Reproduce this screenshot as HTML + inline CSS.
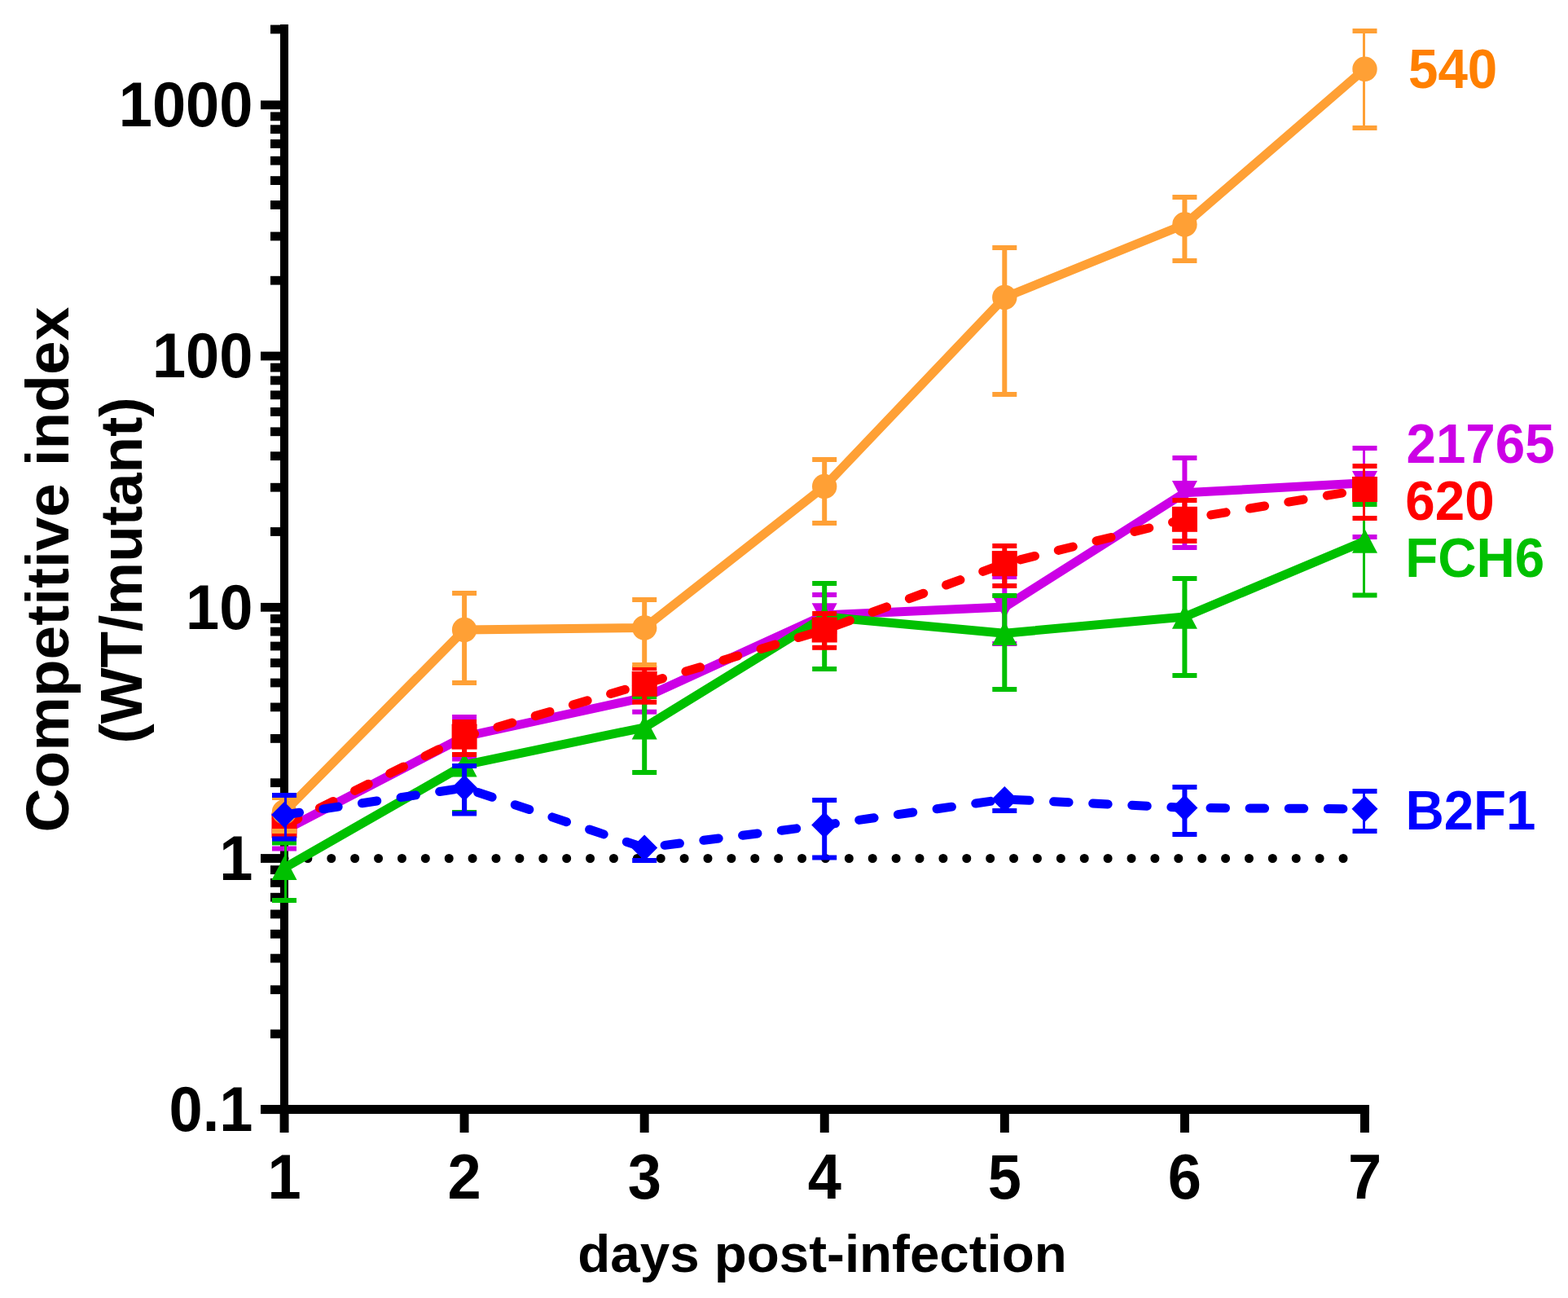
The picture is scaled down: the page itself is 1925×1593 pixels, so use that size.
<!DOCTYPE html>
<html><head><meta charset="utf-8"><title>Competitive index</title>
<style>html,body{margin:0;padding:0;background:#fff;width:1925px;height:1593px;overflow:hidden}</style>
</head><body>
<svg width="1925" height="1593" viewBox="0 0 1925 1593" style="display:block">
<rect width="1925" height="1593" fill="#fff"/>
<rect x="344" y="30" width="10" height="1337" fill="#000"/>
<rect x="320" y="1356" width="1361" height="11" fill="#000"/>
<rect x="320" y="1356.3" width="30" height="10.8" fill="#000"/>
<rect x="320" y="1048.1" width="30" height="10.8" fill="#000"/>
<rect x="320" y="739.9" width="30" height="10.8" fill="#000"/>
<rect x="320" y="431.6" width="30" height="10.8" fill="#000"/>
<rect x="320" y="123.4" width="30" height="10.8" fill="#000"/>
<rect x="332" y="1263.5" width="18" height="10.8" fill="#000"/>
<rect x="332" y="1209.3" width="18" height="10.8" fill="#000"/>
<rect x="332" y="1170.7" width="18" height="10.8" fill="#000"/>
<rect x="332" y="1140.9" width="18" height="10.8" fill="#000"/>
<rect x="332" y="1116.5" width="18" height="10.8" fill="#000"/>
<rect x="332" y="1095.8" width="18" height="10.8" fill="#000"/>
<rect x="332" y="1078.0" width="18" height="10.8" fill="#000"/>
<rect x="332" y="1062.2" width="18" height="10.8" fill="#000"/>
<rect x="332" y="955.3" width="18" height="10.8" fill="#000"/>
<rect x="332" y="901.0" width="18" height="10.8" fill="#000"/>
<rect x="332" y="862.5" width="18" height="10.8" fill="#000"/>
<rect x="332" y="832.6" width="18" height="10.8" fill="#000"/>
<rect x="332" y="808.2" width="18" height="10.8" fill="#000"/>
<rect x="332" y="787.6" width="18" height="10.8" fill="#000"/>
<rect x="332" y="769.7" width="18" height="10.8" fill="#000"/>
<rect x="332" y="754.0" width="18" height="10.8" fill="#000"/>
<rect x="332" y="647.1" width="18" height="10.8" fill="#000"/>
<rect x="332" y="592.8" width="18" height="10.8" fill="#000"/>
<rect x="332" y="554.3" width="18" height="10.8" fill="#000"/>
<rect x="332" y="524.4" width="18" height="10.8" fill="#000"/>
<rect x="332" y="500.0" width="18" height="10.8" fill="#000"/>
<rect x="332" y="479.4" width="18" height="10.8" fill="#000"/>
<rect x="332" y="461.5" width="18" height="10.8" fill="#000"/>
<rect x="332" y="445.7" width="18" height="10.8" fill="#000"/>
<rect x="332" y="338.8" width="18" height="10.8" fill="#000"/>
<rect x="332" y="284.6" width="18" height="10.8" fill="#000"/>
<rect x="332" y="246.1" width="18" height="10.8" fill="#000"/>
<rect x="332" y="216.2" width="18" height="10.8" fill="#000"/>
<rect x="332" y="191.8" width="18" height="10.8" fill="#000"/>
<rect x="332" y="171.1" width="18" height="10.8" fill="#000"/>
<rect x="332" y="153.3" width="18" height="10.8" fill="#000"/>
<rect x="332" y="137.5" width="18" height="10.8" fill="#000"/>
<rect x="332" y="30.6" width="18" height="10.8" fill="#000"/>
<rect x="343.6" y="1360" width="10.9" height="30" fill="#000"/>
<rect x="564.6" y="1360" width="10.9" height="30" fill="#000"/>
<rect x="785.7" y="1360" width="10.9" height="30" fill="#000"/>
<rect x="1006.8" y="1360" width="10.9" height="30" fill="#000"/>
<rect x="1227.9" y="1360" width="10.9" height="30" fill="#000"/>
<rect x="1449.0" y="1360" width="10.9" height="30" fill="#000"/>
<rect x="1670.0" y="1360" width="10.9" height="30" fill="#000"/>

<line x1="349" y1="1053.5" x2="1649.5" y2="1053.5" stroke="#000" stroke-width="11" stroke-linecap="round" stroke-dasharray="0 28.889"/>
<g>
<polyline points="349.0,1019.0 570.1,904.0 791.2,856.0 1012.2,755.0 1233.3,745.0 1454.4,604.8 1675.5,592.8" fill="none" stroke="#CC00E6" stroke-width="11" stroke-linejoin="round" stroke-linecap="round"/>
<rect x="349" y="1000.0" width="3" height="41.5" fill="#CC00E6"/>
<rect x="334.0" y="997.0" width="30" height="6" fill="#CC00E6"/>
<rect x="334.0" y="1038.5" width="30" height="6" fill="#CC00E6"/>
<rect x="567.1" y="880.0" width="6" height="51.5" fill="#CC00E6"/>
<rect x="555.1" y="877.0" width="30" height="6" fill="#CC00E6"/>
<rect x="555.1" y="928.5" width="30" height="6" fill="#CC00E6"/>
<rect x="788.2" y="838.0" width="6" height="35.7" fill="#CC00E6"/>
<rect x="776.2" y="835.0" width="30" height="6" fill="#CC00E6"/>
<rect x="776.2" y="870.7" width="30" height="6" fill="#CC00E6"/>
<rect x="1009.2" y="730.0" width="6" height="45.0" fill="#CC00E6"/>
<rect x="997.2" y="727.0" width="30" height="6" fill="#CC00E6"/>
<rect x="997.2" y="772.0" width="30" height="6" fill="#CC00E6"/>
<rect x="1230.3" y="708.0" width="6" height="82.0" fill="#CC00E6"/>
<rect x="1218.3" y="705.0" width="30" height="6" fill="#CC00E6"/>
<rect x="1218.3" y="787.0" width="30" height="6" fill="#CC00E6"/>
<rect x="1451.4" y="562.0" width="6" height="110.0" fill="#CC00E6"/>
<rect x="1439.4" y="559.0" width="30" height="6" fill="#CC00E6"/>
<rect x="1439.4" y="669.0" width="30" height="6" fill="#CC00E6"/>
<rect x="1673" y="550.0" width="3" height="109.0" fill="#CC00E6"/>
<rect x="1660.5" y="547.0" width="30" height="6" fill="#CC00E6"/>
<rect x="1660.5" y="656.0" width="30" height="6" fill="#CC00E6"/>
<polygon points="333.5,1004.25 364.5,1004.25 349.0,1033.75" fill="#CC00E6"/>
<polygon points="554.6,889.25 585.6,889.25 570.1,918.75" fill="#CC00E6"/>
<polygon points="775.7,841.25 806.7,841.25 791.2,870.75" fill="#CC00E6"/>
<polygon points="996.7,740.25 1027.7,740.25 1012.2,769.75" fill="#CC00E6"/>
<polygon points="1217.8,730.25 1248.8,730.25 1233.3,759.75" fill="#CC00E6"/>
<polygon points="1438.9,590.00 1469.9,590.00 1454.4,619.50" fill="#CC00E6"/>
<polygon points="1660.0,578.00 1691.0,578.00 1675.5,607.50" fill="#CC00E6"/>
</g>
<g>
<polyline points="349.0,1065.2 570.1,938.8 791.2,892.8 1012.2,757.0 1233.3,777.2 1454.4,757.0 1675.5,664.0" fill="none" stroke="#00C000" stroke-width="11" stroke-linejoin="round" stroke-linecap="round"/>
<rect x="349" y="1034.4" width="3" height="70.6" fill="#00C000"/>
<rect x="334.0" y="1031.4" width="30" height="6" fill="#00C000"/>
<rect x="334.0" y="1102.0" width="30" height="6" fill="#00C000"/>
<rect x="567.1" y="926.0" width="6" height="71.0" fill="#00C000"/>
<rect x="555.1" y="923.0" width="30" height="6" fill="#00C000"/>
<rect x="555.1" y="994.0" width="30" height="6" fill="#00C000"/>
<rect x="788.2" y="855.0" width="6" height="93.0" fill="#00C000"/>
<rect x="776.2" y="852.0" width="30" height="6" fill="#00C000"/>
<rect x="776.2" y="945.0" width="30" height="6" fill="#00C000"/>
<rect x="1009.2" y="716.0" width="6" height="105.0" fill="#00C000"/>
<rect x="997.2" y="713.0" width="30" height="6" fill="#00C000"/>
<rect x="997.2" y="818.0" width="30" height="6" fill="#00C000"/>
<rect x="1230.3" y="731.0" width="6" height="115.0" fill="#00C000"/>
<rect x="1218.3" y="728.0" width="30" height="6" fill="#00C000"/>
<rect x="1218.3" y="843.0" width="30" height="6" fill="#00C000"/>
<rect x="1451.4" y="710.0" width="6" height="119.0" fill="#00C000"/>
<rect x="1439.4" y="707.0" width="30" height="6" fill="#00C000"/>
<rect x="1439.4" y="826.0" width="30" height="6" fill="#00C000"/>
<rect x="1673" y="619.0" width="3" height="111.5" fill="#00C000"/>
<rect x="1660.5" y="616.0" width="30" height="6" fill="#00C000"/>
<rect x="1660.5" y="727.5" width="30" height="6" fill="#00C000"/>
<polygon points="349.0,1050.50 364.5,1080.00 333.5,1080.00" fill="#00C000"/>
<polygon points="570.1,924.00 585.6,953.50 554.6,953.50" fill="#00C000"/>
<polygon points="791.2,878.00 806.7,907.50 775.7,907.50" fill="#00C000"/>
<polygon points="1012.2,742.25 1027.7,771.75 996.7,771.75" fill="#00C000"/>
<polygon points="1233.3,762.50 1248.8,792.00 1217.8,792.00" fill="#00C000"/>
<polygon points="1454.4,742.30 1469.9,771.80 1438.9,771.80" fill="#00C000"/>
<polygon points="1675.5,649.30 1691.0,678.80 1660.0,678.80" fill="#00C000"/>
</g>
<g>
<polyline points="349.0,1013.0 570.1,904.2 791.2,839.3 1012.2,773.0 1233.3,691.6 1454.4,637.3 1675.5,600.5" fill="none" stroke="#FF0000" stroke-width="11" stroke-linejoin="round" stroke-dasharray="18.5 29.64" stroke-dashoffset="-0.22" stroke-linecap="round"/>
<rect x="349" y="997.0" width="3" height="32.0" fill="#FF0000"/>
<rect x="334.0" y="994.0" width="30" height="6" fill="#FF0000"/>
<rect x="334.0" y="1026.0" width="30" height="6" fill="#FF0000"/>
<rect x="567.1" y="886.0" width="6" height="40.0" fill="#FF0000"/>
<rect x="555.1" y="883.0" width="30" height="6" fill="#FF0000"/>
<rect x="555.1" y="923.0" width="30" height="6" fill="#FF0000"/>
<rect x="788.2" y="820.0" width="6" height="41.7" fill="#FF0000"/>
<rect x="776.2" y="817.0" width="30" height="6" fill="#FF0000"/>
<rect x="776.2" y="858.7" width="30" height="6" fill="#FF0000"/>
<rect x="1009.2" y="753.0" width="6" height="41.8" fill="#FF0000"/>
<rect x="997.2" y="750.0" width="30" height="6" fill="#FF0000"/>
<rect x="997.2" y="791.8" width="30" height="6" fill="#FF0000"/>
<rect x="1230.3" y="670.0" width="6" height="49.0" fill="#FF0000"/>
<rect x="1218.3" y="667.0" width="30" height="6" fill="#FF0000"/>
<rect x="1218.3" y="716.0" width="30" height="6" fill="#FF0000"/>
<rect x="1451.4" y="614.0" width="6" height="50.0" fill="#FF0000"/>
<rect x="1439.4" y="611.0" width="30" height="6" fill="#FF0000"/>
<rect x="1439.4" y="661.0" width="30" height="6" fill="#FF0000"/>
<rect x="1673" y="572.0" width="3" height="64.0" fill="#FF0000"/>
<rect x="1660.5" y="569.0" width="30" height="6" fill="#FF0000"/>
<rect x="1660.5" y="633.0" width="30" height="6" fill="#FF0000"/>
<rect x="333.5" y="997.5" width="31" height="31" fill="#FF0000"/>
<rect x="554.6" y="888.7" width="31" height="31" fill="#FF0000"/>
<rect x="775.7" y="823.8" width="31" height="31" fill="#FF0000"/>
<rect x="996.7" y="757.5" width="31" height="31" fill="#FF0000"/>
<rect x="1217.8" y="676.1" width="31" height="31" fill="#FF0000"/>
<rect x="1438.9" y="621.8" width="31" height="31" fill="#FF0000"/>
<rect x="1660.0" y="585.0" width="31" height="31" fill="#FF0000"/>
</g>
<g>
<polyline points="349.0,996.5 570.1,772.9 791.2,770.5 1012.2,597.0 1233.3,365.0 1454.4,275.5 1675.5,84.7" fill="none" stroke="#FFA035" stroke-width="11" stroke-linejoin="round" stroke-linecap="round"/>
<rect x="349" y="979.0" width="3" height="41.0" fill="#FFA035"/>
<rect x="334.0" y="976.0" width="30" height="6" fill="#FFA035"/>
<rect x="334.0" y="1017.0" width="30" height="6" fill="#FFA035"/>
<rect x="567.1" y="728.0" width="6" height="110.0" fill="#FFA035"/>
<rect x="555.1" y="725.0" width="30" height="6" fill="#FFA035"/>
<rect x="555.1" y="835.0" width="30" height="6" fill="#FFA035"/>
<rect x="788.2" y="736.0" width="6" height="80.0" fill="#FFA035"/>
<rect x="776.2" y="733.0" width="30" height="6" fill="#FFA035"/>
<rect x="776.2" y="813.0" width="30" height="6" fill="#FFA035"/>
<rect x="1009.2" y="564.0" width="6" height="78.0" fill="#FFA035"/>
<rect x="997.2" y="561.0" width="30" height="6" fill="#FFA035"/>
<rect x="997.2" y="639.0" width="30" height="6" fill="#FFA035"/>
<rect x="1230.3" y="304.0" width="6" height="180.0" fill="#FFA035"/>
<rect x="1218.3" y="301.0" width="30" height="6" fill="#FFA035"/>
<rect x="1218.3" y="481.0" width="30" height="6" fill="#FFA035"/>
<rect x="1451.4" y="242.0" width="6" height="78.0" fill="#FFA035"/>
<rect x="1439.4" y="239.0" width="30" height="6" fill="#FFA035"/>
<rect x="1439.4" y="317.0" width="30" height="6" fill="#FFA035"/>
<rect x="1673" y="38.0" width="3" height="119.0" fill="#FFA035"/>
<rect x="1660.5" y="35.0" width="30" height="6" fill="#FFA035"/>
<rect x="1660.5" y="154.0" width="30" height="6" fill="#FFA035"/>
<circle cx="349.0" cy="996.5" r="15.2" fill="#FFA035"/>
<circle cx="570.1" cy="772.9" r="15.2" fill="#FFA035"/>
<circle cx="791.2" cy="770.5" r="15.2" fill="#FFA035"/>
<circle cx="1012.2" cy="597.0" r="15.2" fill="#FFA035"/>
<circle cx="1233.3" cy="365.0" r="15.2" fill="#FFA035"/>
<circle cx="1454.4" cy="275.5" r="15.2" fill="#FFA035"/>
<circle cx="1675.5" cy="84.7" r="15.2" fill="#FFA035"/>
</g>
<g>
<polyline points="349.0,1000.0 570.1,967.0 791.2,1040.5 1012.2,1012.5 1233.3,980.9 1454.4,991.4 1675.5,992.8" fill="none" stroke="#0000FF" stroke-width="11" stroke-linejoin="round" stroke-dasharray="18.5 29.64" stroke-dashoffset="-0.22" stroke-linecap="round"/>
<rect x="349" y="976.0" width="3" height="53.5" fill="#0000FF"/>
<rect x="334.0" y="973.0" width="30" height="6" fill="#0000FF"/>
<rect x="334.0" y="1026.5" width="30" height="6" fill="#0000FF"/>
<rect x="567.1" y="940.0" width="6" height="58.5" fill="#0000FF"/>
<rect x="555.1" y="937.0" width="30" height="6" fill="#0000FF"/>
<rect x="555.1" y="995.5" width="30" height="6" fill="#0000FF"/>
<rect x="788.2" y="1040.5" width="6" height="15.5" fill="#0000FF"/>
<rect x="776.2" y="1053.0" width="30" height="6" fill="#0000FF"/>
<rect x="1009.2" y="982.0" width="6" height="70.5" fill="#0000FF"/>
<rect x="997.2" y="979.0" width="30" height="6" fill="#0000FF"/>
<rect x="997.2" y="1049.5" width="30" height="6" fill="#0000FF"/>
<rect x="1230.3" y="980.9" width="6" height="14.1" fill="#0000FF"/>
<rect x="1218.3" y="992.0" width="30" height="6" fill="#0000FF"/>
<rect x="1451.4" y="966.0" width="6" height="58.0" fill="#0000FF"/>
<rect x="1439.4" y="963.0" width="30" height="6" fill="#0000FF"/>
<rect x="1439.4" y="1021.0" width="30" height="6" fill="#0000FF"/>
<rect x="1673" y="971.0" width="3" height="49.0" fill="#0000FF"/>
<rect x="1660.5" y="968.0" width="30" height="6" fill="#0000FF"/>
<rect x="1660.5" y="1017.0" width="30" height="6" fill="#0000FF"/>
<polygon points="349.0,984.0 365.0,1000.0 349.0,1016.0 333.0,1000.0" fill="#0000FF"/>
<polygon points="570.1,951.0 586.1,967.0 570.1,983.0 554.1,967.0" fill="#0000FF"/>
<polygon points="791.2,1024.5 807.2,1040.5 791.2,1056.5 775.2,1040.5" fill="#0000FF"/>
<polygon points="1012.2,996.5 1028.2,1012.5 1012.2,1028.5 996.2,1012.5" fill="#0000FF"/>
<polygon points="1233.3,964.9 1249.3,980.9 1233.3,996.9 1217.3,980.9" fill="#0000FF"/>
<polygon points="1454.4,975.4 1470.4,991.4 1454.4,1007.4 1438.4,991.4" fill="#0000FF"/>
<polygon points="1675.5,976.8 1691.5,992.8 1675.5,1008.8 1659.5,992.8" fill="#0000FF"/>
</g>
<g style="font-family:'Liberation Sans',Arial,sans-serif;font-weight:bold" fill="#000">
<text transform="translate(310.4,155.2) scale(1,1.04)" text-anchor="end" font-size="74">1000</text>
<text transform="translate(310.4,463.4) scale(1,1.04)" text-anchor="end" font-size="74">100</text>
<text transform="translate(310.4,771.7) scale(1,1.04)" text-anchor="end" font-size="74">10</text>
<text transform="translate(310.4,1079.9) scale(1,1.04)" text-anchor="end" font-size="74">1</text>
<text transform="translate(310.4,1388.1) scale(1,1.04)" text-anchor="end" font-size="74">0.1</text>
<text transform="translate(349.0,1470.8) scale(1,1.04)" text-anchor="middle" font-size="74">1</text>
<text transform="translate(570.1,1470.8) scale(1,1.04)" text-anchor="middle" font-size="74">2</text>
<text transform="translate(791.2,1470.8) scale(1,1.04)" text-anchor="middle" font-size="74">3</text>
<text transform="translate(1012.2,1470.8) scale(1,1.04)" text-anchor="middle" font-size="74">4</text>
<text transform="translate(1233.3,1470.8) scale(1,1.04)" text-anchor="middle" font-size="74">5</text>
<text transform="translate(1454.4,1470.8) scale(1,1.04)" text-anchor="middle" font-size="74">6</text>
<text transform="translate(1675.5,1470.8) scale(1,1.04)" text-anchor="middle" font-size="74">7</text>
<text x="1009.6" y="1560.5" text-anchor="middle" font-size="65.5">days post-infection</text>
<text transform="translate(84.3,699.1) rotate(-90)" text-anchor="middle" font-size="74.9">Competitive index</text>
<text transform="translate(173.8,700) rotate(-90)" text-anchor="middle" font-size="72.9">(WT/mutant)</text>
<text transform="translate(1729.0,107.9) scale(1,1.04)" font-size="65.5" fill="#FF8000">540</text>
<text transform="translate(1726.5,567.8) scale(1,1.04)" font-size="65.5" fill="#CC00E6">21765</text>
<text transform="translate(1725.3,638.0) scale(1,1.04)" font-size="65.5" fill="#FF0000">620</text>
<text transform="translate(1725.2,708.4) scale(1,1.04)" font-size="65.5" fill="#00C000">FCH6</text>
<text transform="translate(1725.4,1017.8) scale(1,1.04)" font-size="65.5" fill="#0000FF">B2F1</text>
</g>
</svg>
</body></html>
